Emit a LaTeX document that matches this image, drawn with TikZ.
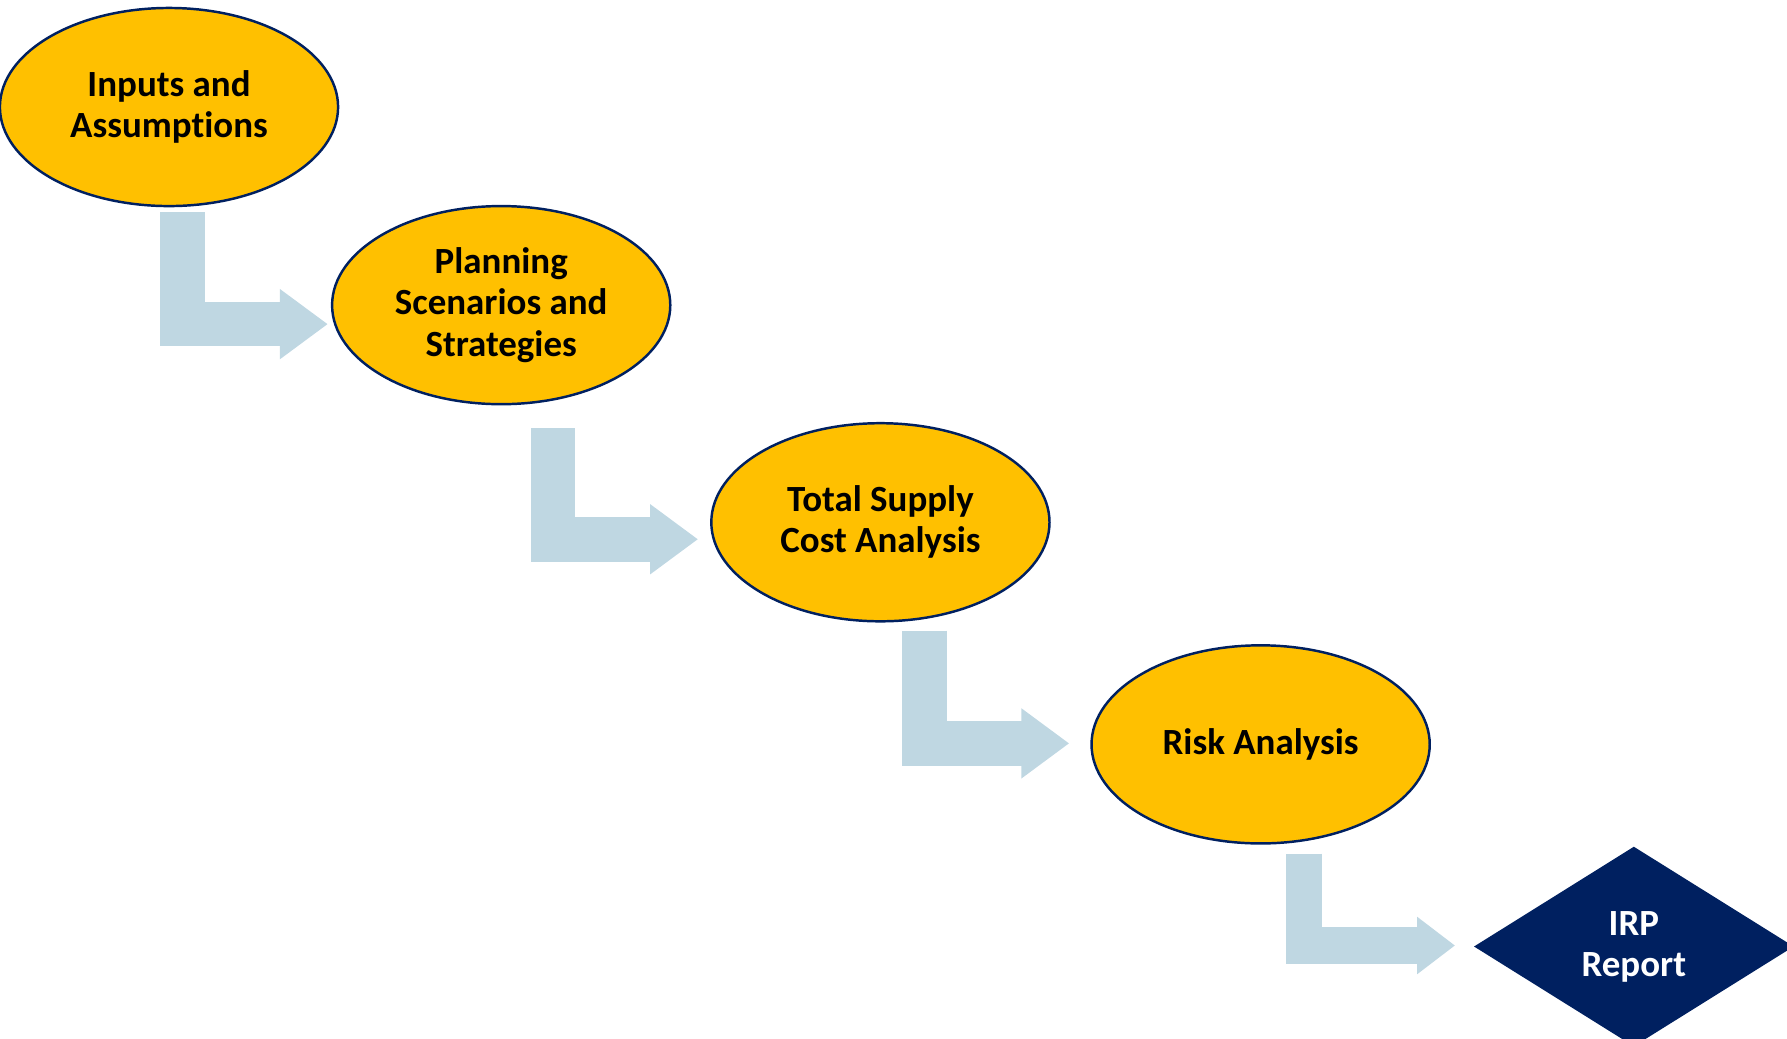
\documentclass[tikz,border=0pt]{standalone}
\usepackage{fontspec}
\setmainfont{Carlito}[Ligatures=NoCommon]
\usetikzlibrary{arrows.meta, shapes.geometric, positioning}

\definecolor{stepyellow}{HTML}{FFC000}
\definecolor{navy}{HTML}{002060}
\definecolor{flowblue}{HTML}{BFD7E2}

\tikzset{
    stepnode/.style={ellipse, draw=navy, line width=0.7pt, fill=stepyellow, minimum width=3.38cm, minimum height=1.98cm,
        inner sep=0pt, align=center, font=\fontsize{10.5}{11.7}\selectfont\bfseries},
    reportnode/.style={diamond, fill=navy, text=white, aspect=1.6, minimum width=3.2cm, minimum height=2cm,
        inner sep=0pt, align=center, font=\fontsize{10.5}{11.7}\selectfont\bfseries},
    flow/.style={draw=flowblue, line width=0.445cm, line join=miter, -{Triangle[length=0.48cm, width=0.67cm]}},
    flowsmall/.style={flow, line width=0.365cm, -{Triangle[length=0.38cm, width=0.55cm]}}
}

\begin{document}
\begin{tikzpicture}[x=0.01cm, y=-0.01cm, node distance=2cm and 3.5cm, on grid]
                    \useasboundingbox (0,0) rectangle (1787,1038);
                    \clip (0,0) rectangle (1787,1038);
                    \node[stepnode](inputs) at (169,107){Inputs and\\Assumptions};
                    \node[stepnode, below right=1.98cm and 3.32cm of inputs](planning){Planning\\Scenarios and\\Strategies};
                    \node[stepnode, below right=2.17cm and 3.79cm of planning](cost){Total Supply\\Cost Analysis};
                    \node[stepnode, below right=2.22cm and 3.80cm of cost](risk){Risk Analysis};
                    \node[reportnode, below right=2.02cm and 3.73cm of risk](report){IRP\\Report};
                    \draw[flow] ([shift={(13.5,5)}]inputs.south) |- ([shift={(-3,19)}]planning.west);
                    \draw[flow] ([shift={(52,23)}]planning.south) |- ([shift={(-12,17)}]cost.west);
                    \draw[flow] ([shift={(44,8)}]cost.south) |- ([shift={(-21,-1)}]risk.west);
                    \draw[flowsmall] ([shift={(43.5,9)}]risk.south) |- ([shift={(-18,-1)}]report.west);
                \end{tikzpicture}
\end{document}
